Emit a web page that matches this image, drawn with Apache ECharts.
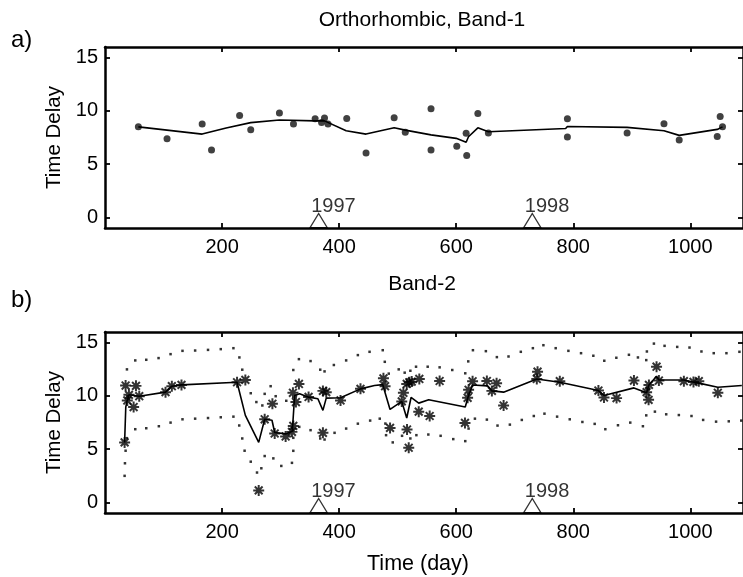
<!DOCTYPE html>
<html>
<head>
<meta charset="utf-8">
<title>Time Delay</title>
<script src="https://cdn.jsdelivr.net/npm/echarts@6/dist/echarts.min.js"></script>
<style>
    html, body { margin: 0; padding: 0; background: #fff; }
    #chart { width: 743px; height: 577px; }
</style>
</head>
<body>
<div id="chart"></div>
<script>
// panel a) Band-1 measurements [day, delay]
const band1Points = [
    [57, 8.5], [106, 7.38], [166, 8.76], [182, 6.33], [230, 9.57], [249, 8.22],
    [298, 9.81], [322, 8.76], [359, 9.25], [370, 8.91], [375, 9.32], [381, 8.76],
    [413, 9.29], [446, 6.05], [494, 9.35], [513, 8.0], [557, 10.19], [557, 6.33],
    [601, 6.67], [617, 7.89], [618, 5.8], [637, 9.75], [655, 7.92], [790, 9.25],
    [790, 7.54], [892, 7.92], [955, 8.79], [981, 7.26], [1046, 7.6], [1051, 9.47],
    [1055, 8.5]
];
// panel a) fitted curve
const band1Fit = [
    [57, 8.5], [166, 7.82], [207, 8.4], [249, 8.9], [298, 9.15], [359, 9.06],
    [375, 9.06], [412, 8.13], [446, 7.82], [494, 8.41], [513, 8.19], [557, 7.75],
    [600, 7.42], [617, 7.05], [621, 7.57], [637, 8.41], [655, 8.04], [787, 8.35],
    [790, 8.54], [892, 8.45], [955, 8.13], [981, 7.7], [1046, 8.26], [1055, 8.5]
];

// panel b) Band-2 measurements
const band2Points = [
    [33.5, 5.63], [35.2, 10.97], [38.1, 9.57], [40.9, 10.1], [48.9, 8.95], [52.9, 10.94],
    [58.5, 9.97], [103.4, 10.35], [114.2, 10.91], [130.7, 11.03], [225.6, 11.28], [239.8, 11.5],
    [262.6, 1.12], [272.8, 7.8], [286, 9.26], [289.9, 6.47], [308.6, 6.19], [319.4, 6.62],
    [321.7, 7.18], [321.1, 10.29], [326.2, 9.42], [331.3, 11.12], [347.8, 9.9], [372.3, 10.47],
    [378, 10.35], [372.3, 6.53], [402.4, 9.57], [436.5, 10.66], [475.7, 11.65], [478.5, 10.91],
    [487, 6.99], [507, 9.48], [509.8, 10.29], [516, 6.84], [518.9, 5.13], [515.5, 11.12],
    [520, 11.28], [524, 11.34], [537, 11.59], [536, 8.52], [554.7, 8.11], [571.7, 11.4],
    [615, 7.46], [619.5, 9.82], [621.2, 10.57], [628, 11.37], [652.4, 11.4], [661, 10.47],
    [669, 11.19], [681, 9.1], [739, 12.27], [737.7, 11.59], [777, 11.38], [843, 10.5],
    [852.5, 9.85], [874, 9.79], [903.7, 11.44], [925.3, 10.35], [928.7, 9.63], [929.3, 11.03],
    [942.3, 12.74], [946.3, 11.44], [989, 11.38], [1005.4, 11.31], [1014.5, 11.38], [1047, 10.29]
];
// panel b) fitted curve
const band2Fit = [
    [33.5, 5.63], [35.5, 8.95], [38, 9.6], [41, 10.1], [58.5, 9.97], [103.4, 10.35],
    [114.2, 10.91], [130.7, 11.03], [225.6, 11.28], [239.8, 8.17], [262.6, 5.63], [272.8, 7.8],
    [285.3, 7.71], [289.9, 6.56], [308.6, 6.43], [320, 6.68], [324, 10.04], [332.5, 10.19],
    [347.8, 9.88], [363.7, 9.73], [372.3, 8.64], [378, 9.79], [402.4, 9.82], [436.5, 10.66],
    [460.4, 10.97], [474.5, 11.06], [477.4, 10.51], [487, 8.73], [507, 9.48], [515.5, 7.92],
    [522.9, 9.85], [536, 9.32], [553, 9.63], [615.5, 8.95], [620, 9.85], [628, 11.02],
    [653.6, 10.94], [661, 10.47], [681, 10.35], [737.7, 11.59], [777, 11.28], [843, 10.5],
    [852.5, 10.04], [903.7, 10.75], [925.3, 10.29], [929, 11.0], [942.3, 11.84], [946.3, 11.49],
    [989, 11.49], [1006, 11.28], [1014.5, 11.2], [1047, 10.81], [1088, 10.97]
];
// panel b) upper / lower bounds (dotted)
const band2Upper = [
    [37.5, 12.49], [51.7, 13.33], [70.5, 13.39], [91.5, 13.55], [112, 13.92], [132.4, 14.23],
    [154, 14.26], [176, 14.32], [197.8, 14.39], [219.4, 14.48], [229.6, 13.61], [234.5, 12.46],
    [249, 10.25], [258.6, 9.42], [268.8, 9.1], [272.8, 10.19], [283, 10.91], [291.6, 9.97],
    [309.7, 9.54], [321.7, 12.43], [331.3, 13.45], [351.2, 13.27], [367.7, 12.46], [375.1, 12.3],
    [391, 12.9], [412, 13.33], [432, 13.83], [452, 14.14], [474.5, 14.29], [478, 13.2],
    [484.8, 12.09], [501.8, 12.49], [512, 12.18], [521.7, 12.36], [531.4, 12.74], [551.3, 12.74],
    [571.7, 12.68], [593.3, 12.43], [615.5, 12.12], [620.6, 13.24], [628.6, 14.29], [650.7, 14.2],
    [669.5, 13.64], [689.4, 13.7], [710.4, 14.14], [731, 14.48], [749, 14.76], [770, 14.48],
    [791.7, 14.23], [813.3, 14.01], [834.3, 13.77], [853, 13.3], [873.6, 13.58], [895.1, 13.86],
    [910.5, 13.61], [924.7, 13.36], [925.8, 14.17], [937.8, 14.91], [956, 14.7], [977.6, 14.6],
    [998.6, 14.54], [1019, 14.17], [1040, 14.01], [1061.7, 14.01], [1083.9, 14.14]
];
const band2Lower = [
    [33.5, 2.49], [34.1, 3.67], [35.2, 4.85], [37.5, 6.03], [51.7, 6.87], [70.5, 6.96],
    [92, 7.15], [112, 7.49], [132.4, 7.8], [154, 7.86], [176, 7.92], [197.8, 7.99],
    [219.4, 8.05], [229.3, 7.22], [234.5, 6.0], [238.5, 4.85], [249, 3.82], [259.7, 2.8],
    [267.1, 3.2], [272.8, 4.35], [287.6, 4.13], [301.2, 3.42], [319.4, 3.71], [321.7, 4.84],
    [321.7, 6.06], [331.9, 7.09], [351.2, 6.78], [367.7, 6.0], [375.1, 5.9], [392.2, 6.53],
    [412, 6.93], [432, 7.39], [453, 7.68], [469.4, 7.86], [479, 7.4], [480.2, 6.31],
    [491.6, 5.63], [507.5, 6.25], [521.7, 6.0], [532, 6.31], [552.4, 6.37], [573.4, 6.25],
    [595, 5.94], [615.5, 5.75], [621.2, 6.93], [632, 7.86], [652.4, 7.77], [670.6, 7.21],
    [691.7, 7.3], [712.1, 7.74], [732.6, 8.11], [750.8, 8.33], [772.4, 8.05], [794, 7.8],
    [815.6, 7.55], [836.6, 7.37], [854.8, 6.87], [876.4, 7.24], [897.4, 7.49], [919, 7.15],
    [924.7, 8.17], [939.5, 8.52], [958.8, 8.27], [980.4, 8.2], [1002, 8.11], [1021.9, 7.74],
    [1044, 7.58], [1065.7, 7.61], [1087, 7.68]
];

// year markers on the time axis
const yearDays = [365, 730];
const yearLabels = ['1997', '1998'];

// ticks and texts
const xTicks = [200, 400, 600, 800, 1000];
const yTicks = [0, 5, 10, 15];
const panelTitles = ['Orthorhombic, Band-1', 'Band-2'];
const panelTags = ['a)', 'b)'];

const FONT = 'Liberation Sans, Arial, Helvetica, sans-serif';
// MATLAB-like '*' marker
const ASTERISK = 'path://M0 8.2L20 8.2L20 11.8L0 11.8Z' +
    'M11.8 0L11.8 20L8.2 20L8.2 0Z' +
    'M4.202 1.656L18.344 15.798L15.798 18.344L1.656 4.202Z' +
    'M1.656 15.798L15.798 1.656L18.344 4.202L4.202 18.344Z';

document.addEventListener('DOMContentLoaded', function() {
    initChart();
});

// axis pair (bottom+top, left+right) for one panel
function buildAxes(gridIndex, showXName) {
    const spine = { show: true, onZero: false, lineStyle: { color: '#000', width: 2.5 } };
    const tick = { show: true, inside: true, length: 5, lineStyle: { color: '#000', width: 1.8 } };
    const xBase = { type: 'value', gridIndex: gridIndex, min: 0, max: 1090, splitLine: { show: false } };
    const yBase = { type: 'value', gridIndex: gridIndex, min: -1, max: 16, splitLine: { show: false } };

    const xAxes = [
        Object.assign({}, xBase, {
            position: 'bottom',
            axisLine: spine,
            axisTick: Object.assign({}, tick, { customValues: xTicks }),
            axisLabel: {
                customValues: xTicks, color: '#000', fontSize: 20, fontFamily: FONT, margin: 9,
                formatter: v => String(v)
            },
            name: showXName ? 'Time (day)' : '',
            nameLocation: 'middle',
            nameGap: 40,
            nameTextStyle: { color: '#000', fontSize: 21.5, fontFamily: FONT, padding: [0, 12, 0, 0] }
        }),
        Object.assign({}, xBase, {
            position: 'top',
            axisLine: spine,
            axisTick: Object.assign({}, tick, { customValues: xTicks }),
            axisLabel: { show: false }
        })
    ];
    const yAxes = [
        Object.assign({}, yBase, {
            position: 'left',
            axisLine: spine,
            axisTick: Object.assign({}, tick, { customValues: yTicks }),
            axisLabel: {
                customValues: yTicks, color: '#000', fontSize: 20, fontFamily: FONT, margin: 7,
                formatter: v => String(v)
            },
            name: 'Time Delay',
            nameLocation: 'middle',
            nameGap: 27,
            nameTextStyle: { color: '#000', fontSize: 20.5, fontFamily: FONT }
        }),
        Object.assign({}, yBase, {
            position: 'right',
            axisLine: spine,
            axisTick: Object.assign({}, tick, { customValues: yTicks }),
            axisLabel: { show: false }
        })
    ];
    return { xAxes: xAxes, yAxes: yAxes };
}

// year triangles and labels for one panel
function yearSeries(xIdx, yIdx) {
    return [
        {
            type: 'scatter',
            xAxisIndex: xIdx, yAxisIndex: yIdx,
            symbol: 'triangle',
            symbolSize: [17, 14],
            data: yearDays.map(d => [d, -0.3]),
            itemStyle: { color: 'rgba(255,255,255,0)', borderColor: '#000', borderWidth: 1.2 },
            silent: true, z: 5
        },
        {
            type: 'scatter',
            xAxisIndex: xIdx, yAxisIndex: yIdx,
            symbolSize: 1,
            data: yearDays.map(d => [d, 1.0]),
            itemStyle: { color: 'rgba(0,0,0,0)' },
            label: {
                show: true,
                position: 'right',
                distance: 0,
                offset: [-8, 0],
                color: '#000',
                fontSize: 20,
                fontFamily: FONT,
                formatter: p => yearLabels[p.dataIndex]
            },
            silent: true, z: 5
        }
    ];
}

function initChart() {
    const el = document.getElementById('chart');
    echarts.dispose(el);
    const chart = echarts.init(el, null, { renderer: 'canvas' });

    const a = buildAxes(0, false);
    const b = buildAxes(1, true);
    const titleStyle = { fontSize: 21, fontWeight: 'normal', color: '#000', fontFamily: FONT };
    const tagStyle = { fontSize: 24, fontWeight: 'normal', color: '#000', fontFamily: FONT };

    const option = {
        backgroundColor: '#fff',
        animation: false,
        title: [
            { text: panelTitles[0], left: 417, top: 5, textAlign: 'center', textStyle: titleStyle },
            { text: panelTitles[1], left: 417, top: 269, textAlign: 'center', textStyle: titleStyle },
            { text: panelTags[0], left: 6, top: 23, textStyle: tagStyle },
            { text: panelTags[1], left: 6, top: 283, textStyle: tagStyle }
        ],
        grid: [
            { left: 105, top: 47, width: 639, height: 181 },
            { left: 105, top: 332, width: 639, height: 181 }
        ],
        xAxis: a.xAxes.concat(b.xAxes),
        yAxis: a.yAxes.concat(b.yAxes),
        series: [
            // panel a
            {
                type: 'line', xAxisIndex: 0, yAxisIndex: 0,
                data: band1Fit, symbol: 'none',
                lineStyle: { color: '#000', width: 1.6 }
            },
            {
                type: 'scatter', xAxisIndex: 0, yAxisIndex: 0,
                data: band1Points, symbol: 'circle', symbolSize: 7,
                itemStyle: { color: '#111' }
            },
            // panel b
            {
                type: 'scatter', xAxisIndex: 2, yAxisIndex: 2,
                data: band2Upper, symbol: 'rect', symbolSize: 2.5,
                itemStyle: { color: '#000' }
            },
            {
                type: 'scatter', xAxisIndex: 2, yAxisIndex: 2,
                data: band2Lower, symbol: 'rect', symbolSize: 2.5,
                itemStyle: { color: '#000' }
            },
            {
                type: 'line', xAxisIndex: 2, yAxisIndex: 2,
                data: band2Fit, symbol: 'none',
                lineStyle: { color: '#000', width: 1.6 }
            },
            {
                type: 'scatter', xAxisIndex: 2, yAxisIndex: 2,
                data: band2Points, symbol: ASTERISK, symbolSize: 11,
                itemStyle: { color: '#000' }
            }
        ].concat(yearSeries(0, 0), yearSeries(2, 2))
    };

    chart.setOption(option);

    window.addEventListener('resize', function() {
        chart.resize();
    });
}
</script>
</body>
</html>
